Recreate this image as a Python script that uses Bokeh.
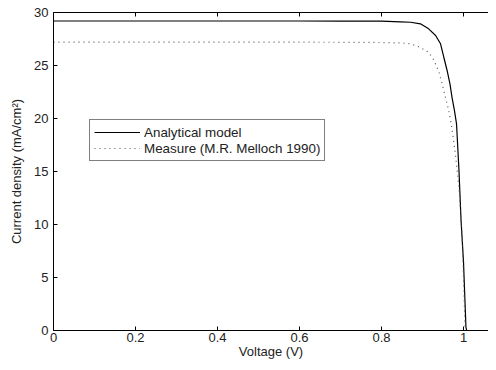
from bokeh.plotting import figure
from bokeh.models import Range1d, LinearAxis, FixedTicker, Legend, LegendItem
from bokeh.embed import file_html
from bokeh.resources import INLINE

# Analytical model (V, mA/cm^2)
model_v = [0.0, 0.2, 0.4, 0.6, 0.7, 0.8, 0.846, 0.871, 0.895, 0.915, 0.932, 0.944, 0.952, 0.960, 0.967, 0.972, 0.978, 0.983, 0.989, 0.994, 1.000, 1.006, 1.008]
model_j = [29.2, 29.2, 29.2, 29.2, 29.19, 29.18, 29.12, 29.08, 28.93, 28.46, 27.83, 27.05, 25.78, 24.53, 23.27, 22.0, 20.75, 19.5, 15.1, 10.4, 6.5, 0.3, 0.0]

# Measure (M.R. Melloch 1990)
meas_v = [0.0, 0.2, 0.4, 0.6, 0.7, 0.8, 0.85, 0.871, 0.895, 0.915, 0.928, 0.940, 0.948, 0.956, 0.964, 0.970, 0.975, 0.980, 0.989, 0.997, 1.002, 1.004]
meas_j = [27.2, 27.2, 27.2, 27.2, 27.19, 27.17, 27.12, 27.05, 26.7, 26.25, 25.5, 24.4, 23.27, 22.0, 20.75, 19.5, 18.2, 16.7, 13.5, 8.8, 2.5, 0.0]

x_ticks = [0, 0.2, 0.4, 0.6, 0.8, 1.0]
x_tick_labels = ["0", "0.2", "0.4", "0.6", "0.8", "1"]
y_ticks = [0, 5, 10, 15, 20, 25, 30]

FONT = "Liberation Sans"
FS = "13px"
TXT = "#222222"

p = figure(width=488, height=362, output_backend="svg", toolbar_location=None,
           x_range=Range1d(0, 1.061), y_range=Range1d(0, 30),
           min_border_left=53, min_border_right=0, min_border_top=12, min_border_bottom=32,
           title=None)
p.outline_line_color = None
p.xgrid.visible = False
p.ygrid.visible = False
p.background_fill_color = "white"
p.border_fill_color = "white"

for ax in (p.xaxis[0], p.yaxis[0]):
    ax.major_tick_in = 4
    ax.major_tick_out = 0
    ax.minor_tick_in = 0
    ax.minor_tick_out = 0
    ax.axis_line_color = "black"
    ax.major_tick_line_color = "black"
    ax.major_label_text_font = FONT
    ax.major_label_text_font_size = FS
    ax.major_label_text_color = TXT
    ax.axis_label_text_font = FONT
    ax.axis_label_text_font_size = FS
    ax.axis_label_text_font_style = "normal"
    ax.axis_label_text_color = TXT

p.xaxis[0].ticker = FixedTicker(ticks=x_ticks)
p.xaxis[0].major_label_overrides = {t: l for t, l in zip(x_ticks, x_tick_labels)}
p.xaxis[0].axis_label = "Voltage (V)"
p.xaxis[0].major_label_standoff = 2
p.xaxis[0].axis_label_standoff = -1
p.yaxis[0].ticker = FixedTicker(ticks=y_ticks)
p.yaxis[0].axis_label = "Current density (mA/cm²)"
p.yaxis[0].major_label_standoff = 5
p.yaxis[0].axis_label_standoff = 7

top = LinearAxis(ticker=FixedTicker(ticks=x_ticks), major_tick_in=4, major_tick_out=0,
                 minor_tick_in=0, minor_tick_out=0, major_label_text_font_size="1px",
                 major_label_text_alpha=0, major_label_standoff=0,
                 axis_line_color="black", major_tick_line_color="black")
p.add_layout(top, "above")

r1 = p.line(model_v, model_j, line_color="black", line_width=1.2)
r2 = p.line(meas_v, meas_j, line_color="#555555", line_width=1.2, line_dash="1 4")

legend = Legend(items=[LegendItem(label="Analytical model", renderers=[r1]),
                       LegendItem(label="Measure (M.R. Melloch 1990)", renderers=[r2])],
                location=(36, 169), orientation="vertical",
                border_line_color="black", border_line_width=1,
                background_fill_color="white", background_fill_alpha=1,
                padding=4, spacing=0, margin=0,
                glyph_width=46, glyph_height=16, label_height=16, label_standoff=4,
                label_text_font=FONT, label_text_font_size="13.4px", label_text_color=TXT)
p.add_layout(legend, "center")

open("out.html", "w").write(file_html(p, INLINE))
